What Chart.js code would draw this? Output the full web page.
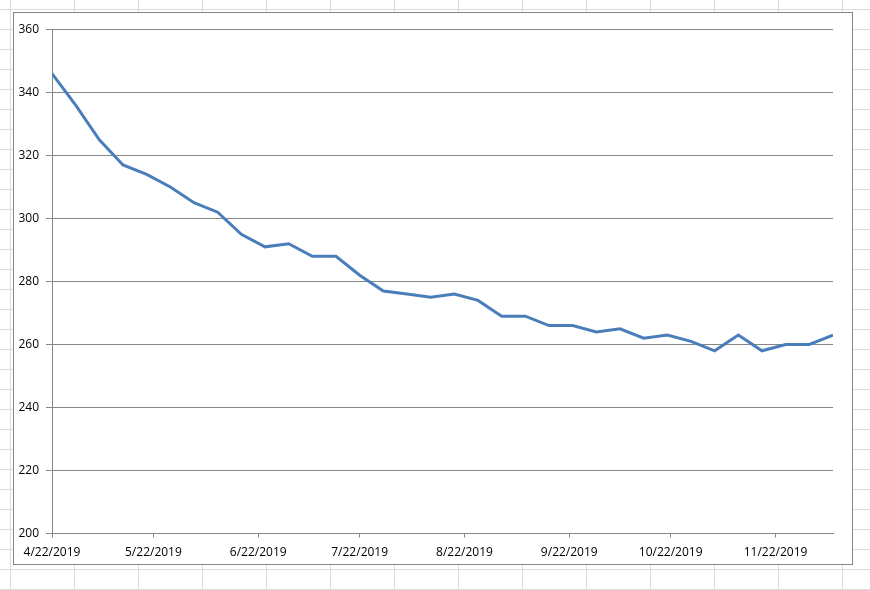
<!DOCTYPE html>
<html>
<head>
<meta charset="utf-8">
<script src="https://cdn.jsdelivr.net/npm/chart.js@4/dist/chart.umd.min.js"></script>
<style>
  html, body { margin:0; padding:0; }
  body {
    width:870px; height:590px; position:relative; overflow:hidden;
    background-color:#ffffff;
    background-image:
      linear-gradient(to right, #dadcdd 1px, transparent 1px),
      linear-gradient(to bottom, #dadcdd 1px, transparent 1px);
    background-size: 64px 100%, 100% 20px;
    background-position: 10px 0, 0 9px;
  }
  #frame {
    position:absolute; left:13px; top:12px; width:840px; height:553px;
    box-sizing:border-box; border:1px solid #868686; background:#fff;
  }
  #wrap { position:absolute; left:0; top:0; width:838px; height:551px; }
</style>
</head>
<body>
<div id="frame"><div id="wrap"><canvas id="c"></canvas></div></div>
<script>
// Weekly observation dates
const dates = [
  "2019-04-22","2019-04-29","2019-05-06","2019-05-13","2019-05-20","2019-05-27",
  "2019-06-03","2019-06-10","2019-06-17","2019-06-24","2019-07-01","2019-07-08",
  "2019-07-15","2019-07-22","2019-07-29","2019-08-05","2019-08-12","2019-08-19",
  "2019-08-26","2019-09-02","2019-09-09","2019-09-16","2019-09-23","2019-09-30",
  "2019-10-07","2019-10-14","2019-10-21","2019-10-28","2019-11-04","2019-11-11",
  "2019-11-18","2019-11-25","2019-12-02","2019-12-09"
];
// Series values
const values = [
  346,336,325,317,314,310,305,302,295,291,292,288,288,282,277,276,275,276,
  274,269,269,266,266,264,265,262,263,261,258,263,258,260,260,263
];
// X axis tick dates and labels
const tickDates = ["2019-04-22","2019-05-22","2019-06-22","2019-07-22","2019-08-22","2019-09-22","2019-10-22","2019-11-22"];
const tickLabels = ["4/22/2019","5/22/2019","6/22/2019","7/22/2019","8/22/2019","9/22/2019","10/22/2019","11/22/2019"];
// Y axis
const yMin = 200, yMax = 360, yStep = 20;

function dayNum(s){ const p = s.split('-').map(Number); return Date.UTC(p[0], p[1]-1, p[2]) / 86400000; }

const points = dates.map((d, i) => ({ x: dayNum(d), y: values[i] }));
const tickVals = tickDates.map(dayNum);

const font = { family: "'Open Sans', 'Liberation Sans', sans-serif", size: 12 };

new Chart(document.getElementById('c'), {
  type: 'line',
  data: {
    datasets: [{
      data: points,
      borderColor: '#4a7ebb',
      borderWidth: 3,
      pointRadius: 0,
      tension: 0,
      fill: false
    }]
  },
  options: {
    responsive: true,
    maintainAspectRatio: false,
    animation: false,
    layout: { padding: { top: 16.5, right: 19, left: 0, bottom: 0 } },
    plugins: { legend: { display: false }, tooltip: { enabled: false } },
    scales: {
      x: {
        type: 'linear',
        min: dayNum(dates[0]),
        max: dayNum(dates[dates.length - 1]),
        afterBuildTicks: (scale) => { scale.ticks = tickVals.map(v => ({ value: v })); },
        afterFit: (scale) => { scale.height = 30.5; },
        ticks: {
          autoSkip: false, maxRotation: 0, minRotation: 0,
          color: '#000', font: font, padding: 8,
          callback: (v) => { const i = tickVals.indexOf(v); return i >= 0 ? tickLabels[i] : ''; }
        },
        grid: { drawOnChartArea: false, drawTicks: true, tickLength: 4, color: '#868686' },
        border: { display: true, color: '#868686', width: 1 }
      },
      y: {
        min: yMin, max: yMax,
        afterFit: (scale) => { scale.width = 38; },
        ticks: { stepSize: yStep, color: '#000', font: font, padding: 7 },
        grid: { color: '#868686', lineWidth: 1, tickLength: 6 },
        border: { display: true, color: '#868686', width: 1 }
      }
    }
  }
});
</script>
</body>
</html>
